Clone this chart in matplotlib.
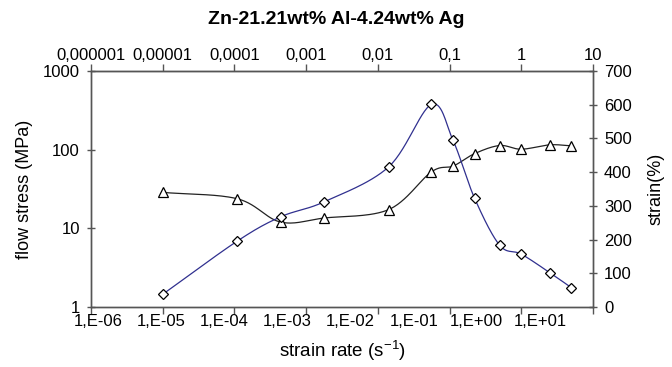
import numpy as np
import matplotlib
matplotlib.use("Agg")
import matplotlib.pyplot as plt
from matplotlib.ticker import FixedLocator, FixedFormatter, NullLocator

plt.rcParams['font.family'] = ['Liberation Sans', 'DejaVu Sans']
plt.rcParams['mathtext.fontset'] = 'custom'
plt.rcParams['mathtext.rm'] = 'Liberation Sans'
plt.rcParams['mathtext.default'] = 'rm'

# data
strain_rate = [1e-5, 1.1e-4, 4.4e-4, 1.8e-3, 1.42e-2, 5.6e-2, 1.12e-1, 2.24e-1, 0.5, 1.0, 2.5, 5.0]
flow_stress = [1.45, 6.9, 14.0, 21.8, 60.6, 376, 131, 24.0, 6.1, 4.7, 2.73, 1.76]
strain_pct = [340, 321, 252, 264, 289, 401, 418, 455, 479, 468, 481, 478]

bottom_labels = ["1,E-06", "1,E-05", "1,E-04", "1,E-03", "1,E-02", "1,E-01", "1,E+00", "1,E+01"]
top_labels = ["0,000001", "0,00001", "0,0001", "0,001", "0,01", "0,1", "1", "10"]
decades = [1e-6, 1e-5, 1e-4, 1e-3, 1e-2, 1e-1, 1e0, 1e1]


def smooth(u, v, n=30):
    # catmull-rom through the points, like Excel's smoothed line
    u = np.asarray(u, float)
    v = np.asarray(v, float)
    pu = np.concatenate([[2 * u[0] - u[1]], u, [2 * u[-1] - u[-2]]])
    pv = np.concatenate([[2 * v[0] - v[1]], v, [2 * v[-1] - v[-2]]])
    t = np.linspace(0, 1, n)[:, None]
    out_u, out_v = [], []
    for i in range(1, len(pu) - 2):
        for p, out in ((pu, out_u), (pv, out_v)):
            p0, p1, p2, p3 = p[i - 1], p[i], p[i + 1], p[i + 2]
            seg = 0.5 * ((2 * p1) + (-p0 + p2) * t + (2 * p0 - 5 * p1 + 4 * p2 - p3) * t ** 2
                         + (-p0 + 3 * p1 - 3 * p2 + p3) * t ** 3)
            out.extend(seg.ravel())
    return np.array(out_u), np.array(out_v)


fig = plt.figure(figsize=(6.72, 3.67), dpi=100)
ax = fig.add_axes([0.1354, 0.1635, 0.7470, 0.6430])
ax2 = ax.twinx()
ax.set_zorder(ax2.get_zorder() + 1)
ax.patch.set_visible(False)

axis_col = '#555555'
tick_fs = 12

# flow stress (left, log)
lx = (np.log10(strain_rate) + 6) / 7
ly = np.log10(flow_stress) / 3
su, sv = smooth(lx, ly)
ax.plot(10 ** (su * 7 - 6), 10 ** (sv * 3), color='#30308f', lw=0.9)
ax.plot(strain_rate, flow_stress, ls='none', marker='D', ms=5.5, mfc='white', mec='black', mew=0.9)

# strain (right, linear)
ry = np.asarray(strain_pct) / 700
su, sv = smooth(lx, ry)
ax2.plot(10 ** (su * 7 - 6), sv * 700, color='#222222', lw=0.9)
ax2.plot(strain_rate, strain_pct, ls='none', marker='^', ms=6.5, mfc='white', mec='black', mew=0.9)

ax.set_xscale('log')
ax.set_yscale('log')
ax.set_xlim(1e-6, 1e1)
ax.set_ylim(1, 1000)
ax2.set_ylim(0, 700)

ax.set_yticks([1, 10, 100, 1000])
ax.set_yticklabels(["1", "10", "100", "1000"])
ax.yaxis.set_minor_locator(NullLocator())
ax2.set_yticks(range(0, 701, 100))

# bottom: ticks on decades, labels squeezed as in the original
ax.xaxis.set_major_locator(FixedLocator(decades))
ax.xaxis.set_major_formatter(FixedFormatter([""] * len(decades)))
label_pos = [10 ** (-5.9 + 0.88 * i) for i in range(len(bottom_labels))]
ax.xaxis.set_minor_locator(FixedLocator(label_pos))
ax.xaxis.set_minor_formatter(FixedFormatter(bottom_labels))
ax.tick_params(axis='x', which='minor', length=0, pad=5, labelsize=tick_fs)
ax.tick_params(axis='x', which='major', length=5, direction='out', color=axis_col, width=1)
ax.tick_params(axis='y', which='major', length=6, direction='inout', color=axis_col, width=1,
               labelsize=tick_fs, pad=5)
ax2.tick_params(axis='y', length=6, direction='inout', color=axis_col, width=1, labelsize=tick_fs, pad=5)

top = ax.secondary_xaxis('top')
top.set_xticks(decades)
top.set_xticklabels(top_labels)
top.xaxis.set_minor_locator(NullLocator())
top.tick_params(axis='x', length=5, direction='out', color=axis_col, width=1, labelsize=tick_fs, pad=1)

for a in (ax, ax2):
    for s in a.spines.values():
        s.set_color(axis_col)
        s.set_linewidth(1)
top.spines['top'].set_color(axis_col)

ax.set_ylabel("flow stress (MPa)", fontsize=13, labelpad=7)
ax2.set_ylabel("strain(%)", fontsize=13, labelpad=11)
ax.set_xlabel("strain rate (s$^{\\mathrm{-1}}$)", fontsize=13.5, labelpad=7)
fig.text(0.5, 0.948, "Zn-21.21wt% Al-4.24wt% Ag", ha='center', va='center', fontsize=14, fontweight='bold')

fig.savefig("out.png", dpi=100)
